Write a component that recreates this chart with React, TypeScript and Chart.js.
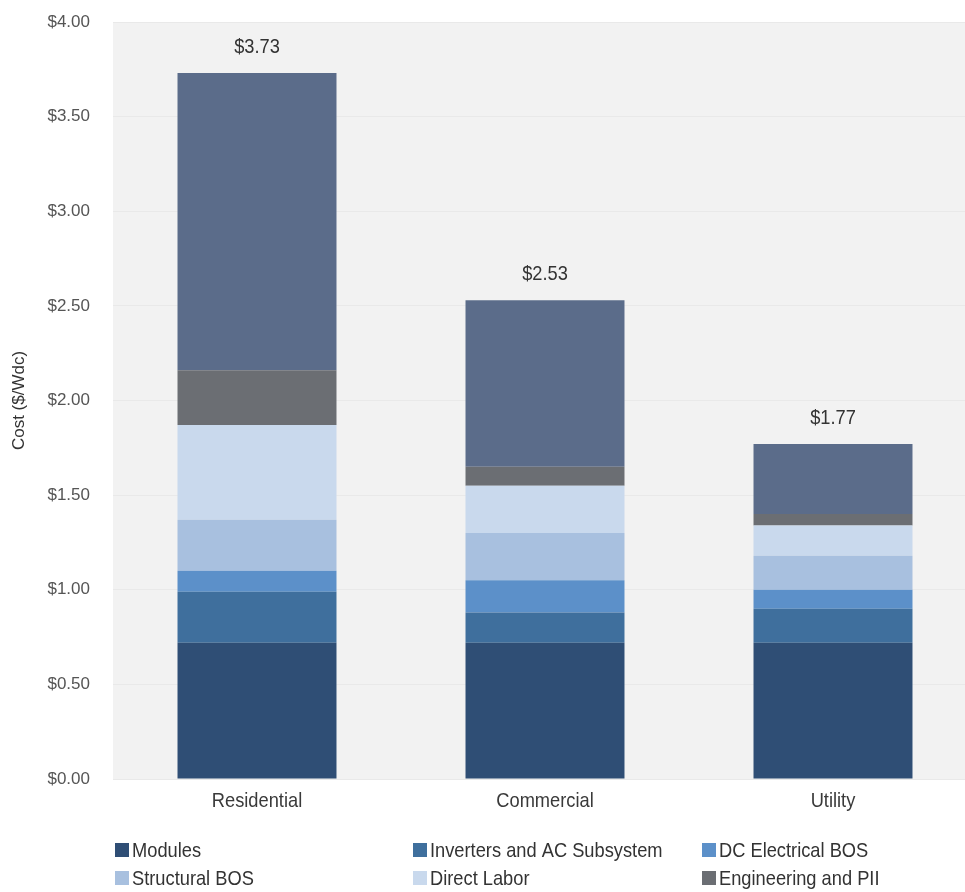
import React, { useEffect, useRef } from 'react';
import { Chart, registerables } from 'chart.js';

Chart.register(...registerables);

const categories = ['Residential', 'Commercial', 'Utility'];
const seriesNames = [
  'Modules',
  'Inverters and AC Subsystem',
  'DC Electrical BOS',
  'Structural BOS',
  'Direct Labor',
  'Engineering and PII',
  'Other',
];
const modules = [0.72, 0.72, 0.72];
const inverters = [0.27, 0.16, 0.18];
const dcElectrical = [0.11, 0.17, 0.1];
const structural = [0.27, 0.25, 0.18];
const directLabor = [0.5, 0.25, 0.16];
const engineering = [0.29, 0.1, 0.06];
const other = [1.57, 0.88, 0.37];
const yTicks = [0, 0.5, 1, 1.5, 2, 2.5, 3, 3.5, 4];

const seriesValues = [modules, inverters, dcElectrical, structural, directLabor, engineering, other];
const seriesColors = ['#2f4e75', '#3f6f9d', '#5c90c9', '#a8c0df', '#c9d9ed', '#6b6e73', '#5b6c8a'];
const legendCount = 6;

const SANS = '"Liberation Sans", Arial, sans-serif';

function narrowText(ctx: any, text: string, x: number, y: number, align: CanvasTextAlign) {
  ctx.save();
  ctx.translate(x, y);
  ctx.scale(0.87, 1);
  ctx.font = `21px ${SANS}`;
  ctx.textAlign = align;
  ctx.textBaseline = 'middle';
  ctx.fillText(text, 0, 0);
  ctx.restore();
}

const customDraw = {
  id: 'customDraw',
  beforeDraw(chart: any) {
    const { ctx, chartArea } = chart;
    ctx.save();
    ctx.fillStyle = '#f2f2f2';
    ctx.fillRect(chartArea.left, chartArea.top, chartArea.right - chartArea.left, chartArea.bottom - chartArea.top + 1);
    ctx.restore();
  },
  afterDraw(chart: any) {
    const { ctx, chartArea, scales } = chart;
    const x = scales.x;
    const y = scales.y;
    ctx.save();
    ctx.fillStyle = '#333333';
    categories.forEach((c, i) => {
      const total = seriesValues.reduce((s, arr) => s + arr[i], 0);
      const px = x.getPixelForValue(i);
      const py = y.getPixelForValue(total);
      narrowText(ctx, '$' + total.toFixed(2), px, py - 26, 'center');
    });
    ctx.fillStyle = '#3a3a3a';
    categories.forEach((c, i) => {
      const px = x.getPixelForValue(i);
      narrowText(ctx, c, px, chartArea.bottom + 22, 'center');
    });
    // axis title
    ctx.save();
    ctx.translate(19, (chartArea.top + chartArea.bottom) / 2);
    ctx.rotate(-Math.PI / 2);
    ctx.font = `17px ${SANS}`;
    ctx.fillStyle = '#333333';
    ctx.textAlign = 'center';
    ctx.textBaseline = 'middle';
    ctx.fillText('Cost ($/Wdc)', 0, 0);
    ctx.restore();
    // legend
    const colX = [115, 413, 702];
    const rowY = [850, 878];
    for (let k = 0; k < legendCount; k++) {
      const lx = colX[k % 3];
      const ly = rowY[Math.floor(k / 3)];
      ctx.fillStyle = seriesColors[k];
      ctx.fillRect(lx, ly - 7, 14, 14);
      ctx.fillStyle = '#333333';
      narrowText(ctx, seriesNames[k], lx + 17, ly + 1, 'left');
    }
    ctx.restore();
  },
};

export default function App() {
  const ref = useRef<HTMLCanvasElement>(null);
  useEffect(() => {
    if (!ref.current) return;
    const chart = new Chart(ref.current, {
      type: 'bar',
      data: {
        labels: categories,
        datasets: seriesValues.map((vals, k) => ({
          label: seriesNames[k],
          data: vals,
          backgroundColor: seriesColors[k],
          borderWidth: 0,
          categoryPercentage: 1,
          barPercentage: 0.552,
        })),
      },
      options: {
        animation: false,
        responsive: false,
        layout: { padding: { left: 0, right: 23, top: 22, bottom: 0 } },
        plugins: { legend: { display: false }, tooltip: { enabled: false } },
        scales: {
          x: {
            stacked: true,
            grid: { display: false },
            border: { display: false },
            ticks: { display: false },
            afterFit: (s: any) => { s.height = 113; },
          },
          y: {
            stacked: true,
            min: 0,
            max: 4,
            afterBuildTicks: (s: any) => { s.ticks = yTicks.map((v) => ({ value: v })); },
            ticks: {
              padding: 23,
              color: '#555555',
              font: { family: SANS, size: 17 },
              callback: (v: any) => '$' + Number(v).toFixed(2),
            },
            grid: { color: 'rgba(0,0,0,0.035)', drawTicks: false },
            border: { display: false },
            afterFit: (s: any) => { s.width = 113; s.paddingTop = 0; s.paddingBottom = 0; },
          },
        },
      },
      plugins: [customDraw],
    });
    return () => chart.destroy();
  }, []);
  return (
    <div style={{ position: 'fixed', left: 0, top: 0, width: 1000, height: 892, overflow: 'hidden' }}>
      <canvas ref={ref} width={1000} height={892} />
    </div>
  );
}
